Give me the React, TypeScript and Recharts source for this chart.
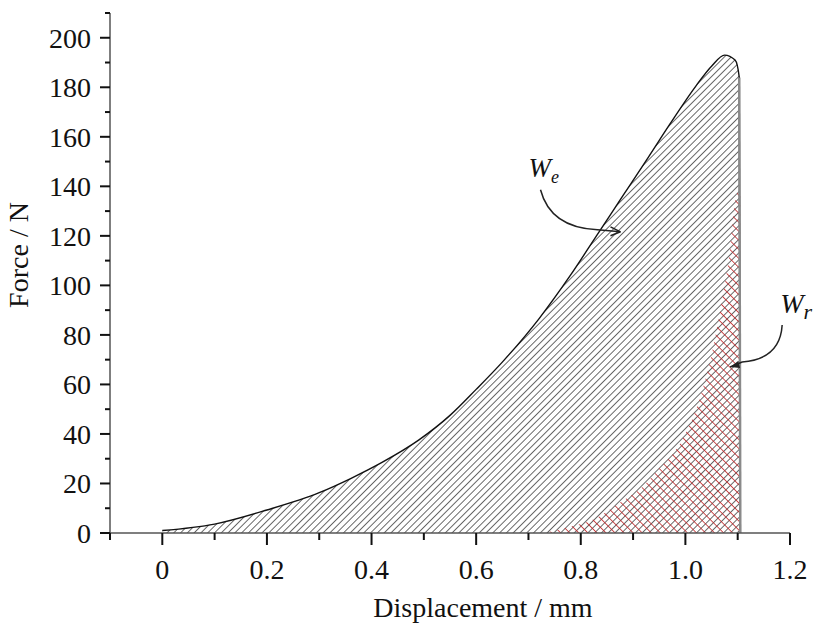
import React from "react";
import { ComposedChart, Area, Line, XAxis, YAxis, ReferenceDot } from "recharts";

// loading curve (W_e boundary)
const loadX = [0, 0.1, 0.2, 0.3, 0.36, 0.42, 0.49, 0.55, 0.6, 0.65, 0.72, 0.78, 0.83, 0.88, 0.93, 0.97, 1.02, 1.05, 1.075, 1.095, 1.103, 1.105];
const loadF = [1, 3.6, 9.3, 16.3, 22, 28.5, 37.5, 47.5, 58, 69, 86.5, 104, 120, 136, 152, 165, 180.5, 188.5, 193, 191, 184, 0];

// unloading curve (W_r boundary)
const unloadX = [0.73, 0.78, 0.82, 0.88, 0.92, 0.95, 0.98, 1.0, 1.03, 1.05, 1.07, 1.085, 1.096, 1.105, 1.105];
const unloadF = [0, 2.5, 5, 13, 19, 26, 33, 40, 56, 72, 94, 114, 135, 139, 0];

const xTicks = [-0.1, 0, 0.1, 0.2, 0.3, 0.4, 0.5, 0.6, 0.7, 0.8, 0.9, 1.0, 1.1, 1.2];
const yTicks = [0, 10, 20, 30, 40, 50, 60, 70, 80, 90, 100, 110, 120, 130, 140, 150, 160, 170, 180, 190, 200, 210];

const loadData = loadX.map((x, i) => ({ x, f: loadF[i] }));
const unloadData = unloadX.map((x, i) => ({ x, f: unloadF[i] }));
const edgeData = loadData.slice(-2);

const FONT = "'Liberation Serif', 'Times New Roman', serif";

const XTick = (p: any) => {
  const v = p.payload.value;
  const major = Math.round(v * 10) % 2 === 0;
  return (
    <g>
      <line x1={p.x} x2={p.x} y1={p.y} y2={p.y + (major ? 12 : 7)} stroke="#111" strokeWidth={2} />
      {major && (
        <text x={p.x} y={p.y + 46} textAnchor="middle" fontFamily={FONT} fontSize={28} fill="#111">
          {v === 0 ? "0" : v.toFixed(1)}
        </text>
      )}
    </g>
  );
};

const YTick = (p: any) => {
  const v = p.payload.value;
  const major = v % 20 === 0;
  return (
    <g>
      <line x1={p.x - (major ? 10 : 5)} x2={p.x} y1={p.y} y2={p.y} stroke="#111" strokeWidth={2} />
      {major && (
        <text x={p.x - 19} y={p.y} dy="0.35em" textAnchor="end" fontFamily={FONT} fontSize={28} fill="#111">
          {v}
        </text>
      )}
    </g>
  );
};

const WeNote = (p: any) => (
  <g>
    <text x={p.cx - 12} y={p.cy - 13} fontFamily={FONT} fontStyle="italic" fontSize={27} fill="#111">
      W<tspan fontSize={18} dy={6}>e</tspan>
    </text>
    <path d={`M ${p.cx} ${p.cy} Q ${p.cx + 10} ${p.cy + 38} ${p.cx + 57} ${p.cy + 40} L ${p.cx + 80} ${p.cy + 42}`}
      fill="none" stroke="#222" strokeWidth={1.5} />
    <path d={`M ${p.cx + 80} ${p.cy + 42} L ${p.cx + 70} ${p.cy + 37} M ${p.cx + 80} ${p.cy + 42} L ${p.cx + 70} ${p.cy + 46}`}
      fill="none" stroke="#222" strokeWidth={1.5} />
  </g>
);

const WrNote = (p: any) => (
  <g>
    <text x={p.cx - 2} y={p.cy - 12} fontFamily={FONT} fontStyle="italic" fontSize={28} fill="#111">
      W<tspan fontSize={22} dy={6}>r</tspan>
    </text>
    <path d={`M ${p.cx} ${p.cy} Q ${p.cx - 2} ${p.cy + 34} ${p.cx - 40} ${p.cy + 37} L ${p.cx - 52} ${p.cy + 42}`}
      fill="none" stroke="#222" strokeWidth={1.5} />
    <path d={`M ${p.cx - 52} ${p.cy + 42} L ${p.cx - 44} ${p.cy + 36} L ${p.cx - 42} ${p.cy + 43} Z`} fill="#222" />
  </g>
);

export default function App() {
  return (
    <div style={{ position: "absolute", left: 0, top: 0, width: 816, height: 629, background: "#fff" }}>
      <ComposedChart width={816} height={629} margin={{ top: 13, right: 26, bottom: 0, left: 0 }}>
        <defs>
          <pattern id="hatchK" patternUnits="userSpaceOnUse" width={4.8} height={4.8} patternTransform="rotate(45)">
            <line x1={0} y1={0} x2={0} y2={4.8} stroke="#222" strokeWidth={1.35} />
          </pattern>
          <pattern id="hatchR" patternUnits="userSpaceOnUse" width={6.4} height={6.4} patternTransform="rotate(-45)">
            <line x1={0} y1={0} x2={0} y2={6.4} stroke="#c0282a" strokeWidth={1.6} />
          </pattern>
        </defs>
        <XAxis type="number" dataKey="x" domain={[-0.1, 1.2]} ticks={xTicks} interval={0}
          allowDataOverflow height={96} tickSize={0} tickMargin={0} tickLine={false}
          axisLine={{ stroke: "#555", strokeWidth: 1.5 }} tick={<XTick />}
          label={{ value: "Displacement / mm", position: "insideBottom", offset: 12, dx: 33, fontFamily: FONT, fontSize: 28, fill: "#111" }} />
        <YAxis type="number" dataKey="f" domain={[0, 210]} ticks={yTicks} interval={0}
          allowDataOverflow width={110} tickSize={0} tickMargin={0} tickLine={false}
          axisLine={{ stroke: "#555", strokeWidth: 1.5 }} tick={<YTick />}
          label={{ value: "Force / N", angle: -90, position: "insideLeft", offset: 18, dy: -18, fontFamily: FONT, fontSize: 28, fill: "#111", style: { textAnchor: "middle" } }} />
        <Area data={loadData} dataKey="f" type="monotone" stroke="#111" strokeWidth={1.4}
          fill="url(#hatchK)" fillOpacity={1} isAnimationActive={false} dot={false} activeDot={false} />
        <Area data={unloadData} dataKey="f" type="monotone" stroke="none"
          fill="url(#hatchR)" fillOpacity={1} isAnimationActive={false} dot={false} activeDot={false} />
        <Line data={edgeData} dataKey="f" type="linear" stroke="#8a8a8a" strokeWidth={2.5}
          dot={false} activeDot={false} isAnimationActive={false} />
        <ReferenceDot x={0.723} y={138.6} r={0} ifOverflow="visible" shape={<WeNote />} />
        <ReferenceDot x={1.185} y={84} r={0} ifOverflow="visible" shape={<WrNote />} />
      </ComposedChart>
    </div>
  );
}
